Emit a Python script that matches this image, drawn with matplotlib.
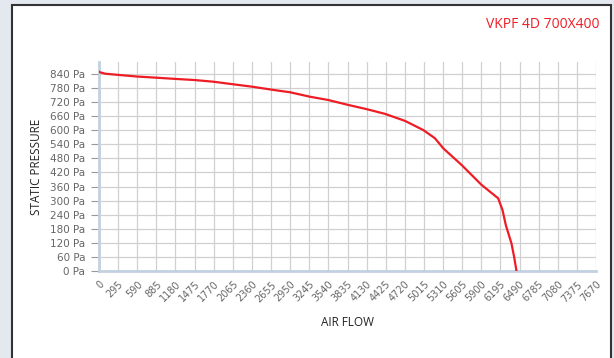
import numpy as np
import matplotlib.pyplot as plt
from matplotlib.patches import Rectangle

plt.rcParams["font.family"] = "DejaVu Sans"

# curve (air flow, static pressure in Pa)
flow = [0, 15, 100, 298, 590, 890, 1173, 1481, 1764, 2072, 2356, 2690, 2947,
        3255, 3538, 3846, 4130, 4413, 4722, 5004, 5184, 5313, 5596, 5904,
        6160, 6227, 6278, 6365, 6406, 6443]
pressure = [850, 847, 841, 836, 829, 824, 819, 814, 807, 796, 786, 772, 762,
            743, 729, 708, 690, 670, 640, 601, 566, 523, 452, 367,
            310, 260, 196, 118, 61, 0]

x_ticks = list(range(0, 7671, 295))
y_ticks = list(range(0, 841, 60))
title = "VKPF 4D 700X400"

fig = plt.figure(figsize=(6.14, 3.58), dpi=100)
fig.patch.set_facecolor("#e4e8ef")

# white card with dark frame
card = Rectangle((12 / 614, -0.05), (611 - 12) / 614, 1.05 - 5 / 358,
                 transform=fig.transFigure, facecolor="white",
                 edgecolor="#333333", lw=1.5, zorder=-5)
fig.patches.append(card)

ax = fig.add_axes([99 / 614, 1 - 271 / 358, (596 - 99) / 614, (271 - 62) / 358])
ax.set_zorder(2)
ax.set_facecolor("white")

ax.plot(flow, pressure, color="#ee1c25", lw=1.6, solid_capstyle="round", zorder=3)

ax.set_xlim(0, 7670)
ax.set_ylim(0, 891)
ax.set_xticks(x_ticks)
ax.set_xticklabels([str(v) for v in x_ticks], rotation=45, ha="right",
                   rotation_mode="anchor", fontsize=7, color="#666666")
ax.set_yticks(y_ticks)
ax.set_yticklabels([f"{v} Pa" for v in y_ticks], fontsize=7.5, color="#666666")

ax.grid(True, color="#d0d0d0", lw=0.9)
ax.set_axisbelow(True)
ax.tick_params(axis="x", length=0, pad=6)
ax.tick_params(axis="y", length=6, color="#999999", width=0.8, pad=4)

for side in ["top", "right"]:
    ax.spines[side].set_visible(False)
for side in ["left", "bottom"]:
    ax.spines[side].set_color("#c3d0e0")
    ax.spines[side].set_linewidth(2)

ax.set_xlabel("AIR FLOW", fontsize=8.5, color="#222222", family="Open Sans", labelpad=9)
ax.set_ylabel("STATIC PRESSURE", fontsize=8.5, color="#222222", family="Open Sans", labelpad=5)

fig.text(600 / 614, 1 - 25 / 358, title, color="#ee1c25", fontsize=10,
         family="Open Sans", ha="right", va="center")

fig.savefig("out.png", dpi=100, facecolor=fig.get_facecolor())
